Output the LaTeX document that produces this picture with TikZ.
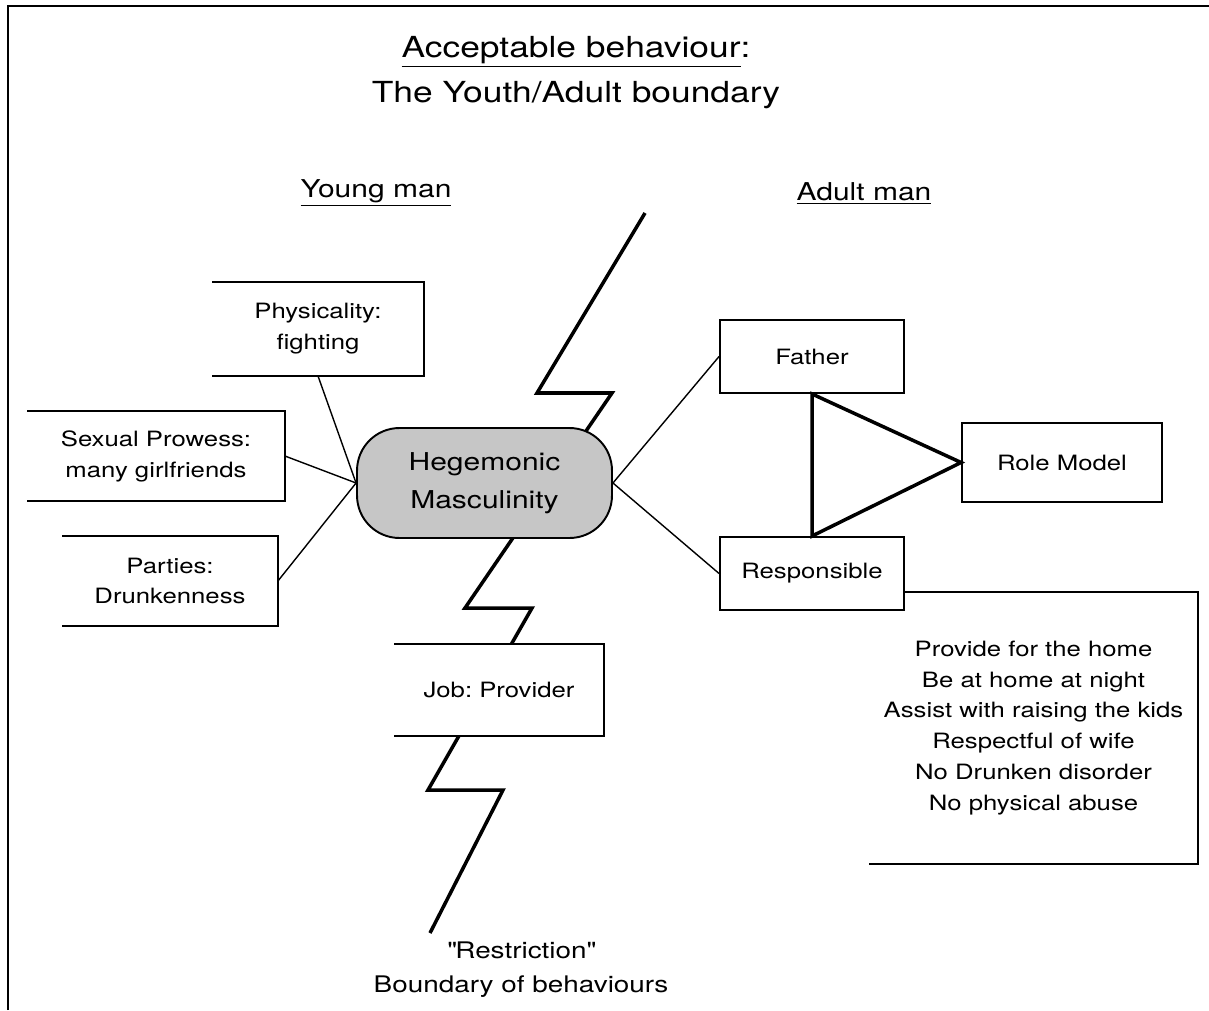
\documentclass[tikz,border=0pt]{standalone}
\usepackage{fontspec}
\setmainfont{TeX Gyre Heros}[FakeStretch=1.22]

\tikzset{
    box/.style={draw, fill=white, line width=1.1pt, align=center, inner sep=1pt,
        font=\fontsize{12}{17.6}\selectfont},
    openbox/.style={box, draw=none},
    edge/.style={line width=1.1pt},
    link/.style={line width=0.8pt},
    hub/.style={box, fill=gray!45, rounded corners=0.85cm,
        font=\fontsize{14}{21.6}\selectfont},
    head/.style={font=\fontsize{14}{17}\selectfont},
}

\begin{document}
\frenchspacing
\begin{tikzpicture}[x=0.02cm, y=-0.02cm]
    \useasboundingbox (0,0) rectangle (1209,1010);

    % Frame
    \draw[line width=1pt] (8,1010) -- (8,6) -- (1209,6);

    % Titles
    \node[font=\fontsize{16.5}{25.6}\selectfont, align=center] (title) at (576,73)
        {\underline{Acceptable behaviour}:\\The Youth/Adult boundary};
    \node[head] (young) at (376,193) {\underline{Young man}};
    \node[head] (adult) at (864,193) {\underline{Adult man}};

    % Boundary line
    \draw[line width=2pt, line join=miter] (645,213) -- (537,393) -- (612,393) -- (465,608)
        -- (532,608) -- (428,790) -- (503,790) -- (430,933);
    \node[font=\fontsize{13}{19.4}\selectfont, align=center] (restrict) at (521,970)
        {\textquotedbl Restriction\textquotedbl\\Boundary of behaviours};

    % Adult man
    \node[openbox, minimum width=6.54cm, minimum height=5.4cm] (duty) at (1033.5,728)
        {Provide for the home\\Be at home at night\\Assist with raising the kids\\
         Respectful of wife\\No Drunken disorder\\No physical abuse};
    \draw[edge] (duty.north west) -- (duty.north east) -- (duty.south east) -- (duty.south west);
    \node[box, minimum width=3.68cm, minimum height=1.46cm] (father) at (812,356.5) {Father};
    \node[box, minimum width=4cm, minimum height=1.58cm] (role) at (1062,462.5) {Role Model};
    \node[box, minimum width=3.68cm, minimum height=1.46cm] (resp) at (812,573.5) {Responsible};

    % Young man
    \node[openbox, minimum width=4.2cm, minimum height=1.84cm] (phys) at (318,329) {Physicality:\\fighting};
    \node[openbox, minimum width=5.12cm, minimum height=1.76cm] (sex) at (156,456) {Sexual Prowess:\\many girlfriends};
    \node[openbox, minimum width=4.28cm, minimum height=1.76cm] (party) at (170,581) {Parties:\\Drunkenness};
    \node[openbox, minimum width=4.16cm, minimum height=1.8cm] (job) at (499,690) {Job: Provider};
    \foreach \n in {phys,sex,party,job}
        \draw[edge] (\n.north west) -- (\n.north east) -- (\n.south east) -- (\n.south west);

    \node[hub, minimum width=5.1cm, minimum height=2.2cm] (hm) at (484.5,483) {Hegemonic\\Masculinity};

    % Links
    \foreach \n in {phys.south,sex.east,party.east}
        \draw[link] (\n) -- (hm.west);
    \draw[link] (hm.east) -- (father.west);
    \draw[link] (hm.east) -- (resp.west);

    % Role model
    \draw[line width=2pt, line join=miter] (father.south) -- (resp.north) -- (role.west) -- cycle;
\end{tikzpicture}
\end{document}
